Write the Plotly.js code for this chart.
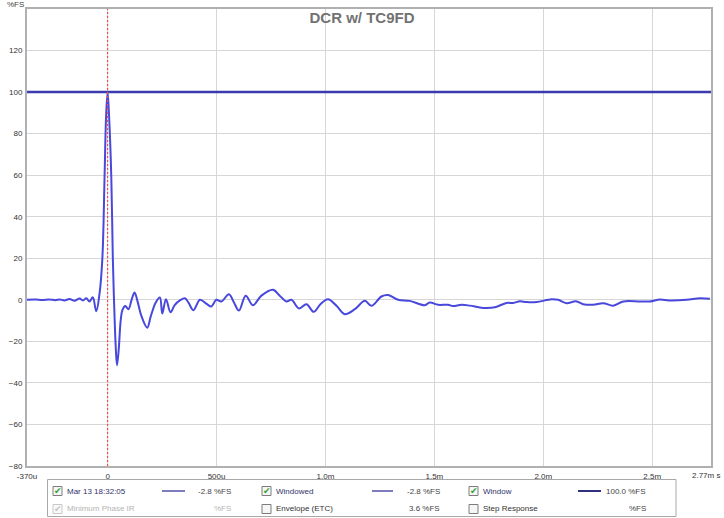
<!DOCTYPE html>
<html>
<head>
<meta charset="utf-8">
<script src="https://cdn.plot.ly/plotly-3.0.1.min.js"></script>
<style>
html,body{margin:0;padding:0;background:#fff;}
#chart{width:724px;height:518px;}
</style>
</head>
<body>
<div id="chart"></div>
<script>
// ---- data (time in ms, amplitude in %FS) ----
const timeMs = [-0.370,-0.330,-0.300,-0.266,-0.240,-0.220,-0.198,-0.175,-0.152,-0.129,-0.113,-0.098,-0.083,-0.068,-0.052,-0.037,-0.024,-0.014,-0.007,0,
0.007,0.017,0.024,0.030,0.037,0.043,0.051,0.060,0.068,0.081,0.096,0.110,0.124,0.138,0.156,0.182,0.198,0.220,0.240,0.251,0.268,0.289,0.308,0.332,0.355,0.372,0.394,
0.424,0.455,0.476,0.499,0.522,0.557,0.579,0.603,0.634,0.667,0.706,0.759,0.790,0.821,0.844,0.879,0.913,0.946,0.978,1.012,1.052,1.089,1.135,1.181,1.211,1.257,1.288,
1.334,1.387,1.456,1.479,1.517,1.563,1.585,1.625,1.663,1.724,1.778,1.831,1.862,1.893,1.923,1.969,2.038,2.068,2.107,2.150,2.183,2.229,2.275,2.321,2.367,2.444,2.490,
2.536,2.577,2.658,2.720,2.765];
const impulse = [0,0.1,-0.1,0.2,-0.2,0.2,-0.3,0.4,-0.5,0.6,-0.3,0.7,-0.8,1.2,-5.5,3,20,59,88,100,
88,59,20,-2,-22,-31.5,-24,-10,-5,-3,-4.5,0,3.5,-1,-8,-13.4,-8,-1.5,1.1,-6.6,0.3,-6,-2.5,-0.3,0.8,-1.5,-5,
0,-2,-3.2,0,-0.8,2.7,-1,-5.2,2,-2.6,2,4.8,2,-0.8,0,-4.2,-2.1,-5.8,-2,0.3,-3,-6.9,-4.5,-0.5,-2.9,1.6,2.3,
0,-0.5,-2.6,-1.3,-2.4,-2.4,-3,-2.4,-2.8,-3.9,-3.6,-1.5,-1.5,-0.7,-1.1,-1.1,0.3,0,-1.6,-0.7,-2.1,-2.4,-1.6,-2.8,-0.8,-0.8,-0.8,
0.1,-0.3,0,0.8,0.5];
const windowTime = [-0.37, 2.77];
const windowLevel = [100, 100];

const xTickVals = [-0.37, 0, 0.5, 1.0, 1.5, 2.0, 2.5];
const xTickText = ["-370u", "0", "500u", "1.0m", "1.5m", "2.0m", "2.5m"];
const xEndLabel = "2.77m s";
const yTickVals = [-80, -60, -40, -20, 0, 20, 40, 60, 80, 100, 120];

const legendNames = ["Mar 13 18:32:05", "Windowed", "Window", "Minimum Phase IR", "Envelope (ETC)", "Step Response"];
const legendValues = ["-2.8 %FS", "-2.8 %FS", "100.0 %FS", "%FS", "3.6 %FS", "%FS"];
const legendChecked = [true, true, true, true, false, false];
const legendEnabled = [true, true, true, false, true, true];

// ---- layout geometry (pixels) ----
const W = 724, H = 518, L = 27, R = 711, T = 9, B = 466;
const px = x => (x - L) / (R - L);
const py = y => (B - y) / (B - T);
const FONT = 'Arial, "Liberation Sans", sans-serif';

const traces = [
  {x: windowTime, y: windowLevel, type: 'scatter', mode: 'lines',
   line: {color: '#3b3bb0', width: 2.5}, hoverinfo: 'skip'},
  {x: timeMs, y: impulse, type: 'scatter', mode: 'lines',
   line: {color: '#4848dc', width: 2, shape: 'spline', smoothing: 1}, hoverinfo: 'skip'}
];

const shapes = [
  {type: 'line', xref: 'x', yref: 'paper', x0: 0, x1: 0, y0: 0.003, y1: 0.997,
   line: {color: '#ffffff', width: 1.6}, layer: 'below'},
  {type: 'line', xref: 'x', yref: 'paper', x0: 0, x1: 0, y0: 0, y1: 1,
   line: {color: '#ff4a4a', width: 1.2, dash: '2px,2px'}, layer: 'above'},
  // legend box
  {type: 'rect', xref: 'paper', yref: 'paper', x0: px(47.5), x1: px(676), y0: py(479.5), y1: py(516.5),
   line: {color: '#a8a8a8', width: 1}, fillcolor: 'rgba(0,0,0,0)'}
];
const annotations = [
  {xref: 'paper', yref: 'paper', x: px(26), y: py(5), xanchor: 'right', yanchor: 'middle',
   text: '%FS', showarrow: false, font: {family: FONT, size: 8, color: '#444'}},
  {xref: 'paper', yref: 'paper', x: px(722), y: py(475.5), xanchor: 'right', yanchor: 'middle',
   text: xEndLabel, showarrow: false, font: {family: FONT, size: 8, color: '#333'}}
];

const colX = [53, 262, 469];
const rowY = [491, 509];
const lineX = [[162, 185], [372, 393], [578, 601]];
const valRight = [233, 442, 648];
for (let i = 0; i < 6; i++) {
  const c = i % 3, r = Math.floor(i / 3);
  const cx = colX[c], cy = rowY[r];
  const en = legendEnabled[i];
  shapes.push({type: 'rect', xref: 'paper', yref: 'paper', x0: px(cx), x1: px(cx + 9), y0: py(cy - 4.5), y1: py(cy + 4.5),
    line: {color: en ? '#7c7c7c' : '#c8c8c8', width: 1}, fillcolor: en ? '#f6f6f6' : '#fafafa'});
  if (legendChecked[i]) {
    annotations.push({xref: 'paper', yref: 'paper', x: px(cx + 4.8), y: py(cy + 0.3), xanchor: 'center', yanchor: 'middle',
      text: '✔', showarrow: false, font: {family: '"DejaVu Sans", sans-serif', size: 9, color: en ? '#2ea02e' : '#c4c4c4'}});
  }
  annotations.push({xref: 'paper', yref: 'paper', x: px(cx + 12), y: py(cy), xanchor: 'left', yanchor: 'middle',
    text: legendNames[i], showarrow: false,
    font: {family: FONT, size: 8, color: en ? (r === 0 ? '#33336a' : '#333') : '#b4b4b4'}});
  annotations.push({xref: 'paper', yref: 'paper', x: px(valRight[c]), y: py(cy), xanchor: 'right', yanchor: 'middle',
    text: legendValues[i], showarrow: false,
    font: {family: FONT, size: 8, color: en ? '#444' : '#b4b4b4'}});
  if (r === 0) {
    shapes.push({type: 'line', xref: 'paper', yref: 'paper', x0: px(lineX[c][0]), x1: px(lineX[c][1]), y0: py(cy), y1: py(cy),
      line: {color: c === 2 ? '#30307e' : '#5252a6', width: c === 2 ? 2 : 1.5}});
  }
}

const layout = {
  width: W, height: H,
  margin: {l: L, r: W - R, t: T, b: H - B, pad: 0},
  paper_bgcolor: '#ffffff', plot_bgcolor: '#ffffff',
  showlegend: false,
  title: {text: '<b>DCR w/ TC9FD</b>', font: {family: FONT, size: 15, color: '#727272'},
          x: 362 / W, xanchor: 'center', xref: 'container', y: 1 - 18 / H, yanchor: 'middle', yref: 'container'},
  xaxis: {range: [-0.37, 2.77], tickmode: 'array', tickvals: xTickVals, ticktext: xTickText,
          showgrid: true, gridcolor: '#d6d6d6', gridwidth: 1, zeroline: false,
          showline: true, mirror: true, linecolor: '#b0b0b0', linewidth: 2,
          ticks: 'outside', ticklen: 1, tickcolor: 'rgba(0,0,0,0)',
          tickfont: {family: FONT, size: 8, color: '#333'}, fixedrange: true},
  yaxis: {range: [-80, 140], tickmode: 'array', tickvals: yTickVals,
          showgrid: true, gridcolor: '#d6d6d6', gridwidth: 1, zeroline: false,
          showline: true, mirror: true, linecolor: '#b0b0b0', linewidth: 2,
          ticks: 'outside', ticklen: 1, tickcolor: 'rgba(0,0,0,0)',
          tickfont: {family: FONT, size: 8, color: '#333'}, fixedrange: true},
  shapes: shapes,
  annotations: annotations
};

Plotly.newPlot('chart', traces, layout, {displayModeBar: false, staticPlot: true});
</script>
</body>
</html>
